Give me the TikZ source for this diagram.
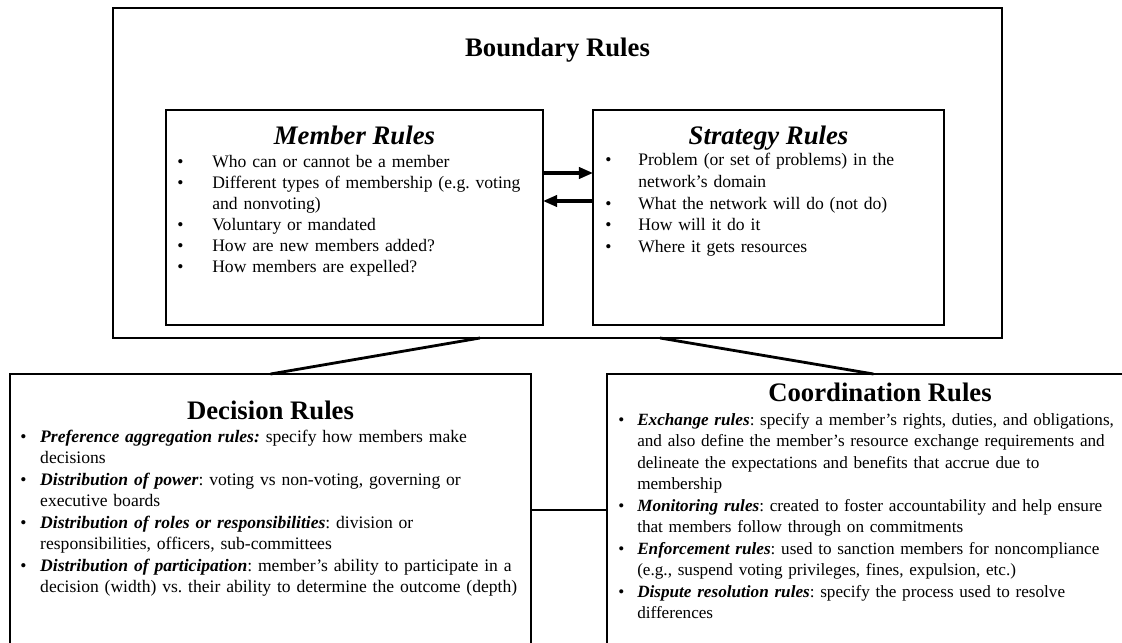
\documentclass[tikz,border=0pt]{standalone}
\usepackage{fontspec}
\setmainfont{Liberation Serif}
\usetikzlibrary{positioning,arrows.meta,calc}

% bullet list with hanging indent
\newlength\bulletgap
\newcommand\ruleitem[1]{\noindent\hangindent=\bulletgap\hangafter=1\makebox[\bulletgap][l]{\textbullet}#1\par}
\newcommand\term[1]{\textbf{\textit{#1}}}
\frenchspacing

\tikzset{
  rulebox/.style 2 args={
    draw, line width=2pt, inner sep=0pt, outer sep=0pt,
    minimum width=#1*0.025cm, minimum height=#2*0.025cm
  },
  heading/.style={
    anchor=base, inner sep=0pt,
    font=\fontsize{19}{22}\selectfont\bfseries
  },
  itemlist/.style={
    anchor=base west, inner sep=0pt, text width=#1, align=left
  },
  link/.style={line width=2pt},
  arrow/.style={-{Triangle[length=10pt,width=8pt]}, line width=2.2pt}
}

\begin{document}
\begin{tikzpicture}[x=0.025cm, y=-0.025cm]
  \useasboundingbox (0,0) rectangle (1122,643);
  \clip (0,0) rectangle (1122,643);

  % boxes
  \node[rulebox={889}{330}] (boundary) at (557.5,173) {};
  \node[rulebox={377}{215}] (member) at (354.5,217.5) {};
  \node[rulebox={351}{215}] (strategy) at (768.5,217.5) {};
  \node[rulebox={521}{272}] (decision) at (270.5,510) {};
  \node[rulebox={533}{272}] (coord) at (873.5,510) {};

  % headings
  \node[heading] (boundaryhead) at (557.5,57) {Boundary Rules};
  \node[heading, font=\fontsize{19}{22}\selectfont\bfseries\itshape] (memberhead) at (354.5,145) {Member Rules};
  \node[heading, font=\fontsize{19}{22}\selectfont\bfseries\itshape] (strategyhead) at (768.5,145) {Strategy Rules};
  \node[heading] (decisionhead) at (270.5,419) {Decision Rules};
  \node[heading] (coordhead) at (880,401) {Coordination Rules};

  % item lists
  \node[itemlist=360pt, font=\fontsize{12.5}{15}\selectfont] (memberlist) at (177,167) {%
    \setlength\bulletgap{24.9pt}%
    \ruleitem{Who can or cannot be a member}%
    \ruleitem{Different types of membership (e.g. voting\newline and nonvoting)}%
    \ruleitem{Voluntary or mandated}%
    \ruleitem{How are new members added?}%
    \ruleitem{How members are expelled?}};
  \node[itemlist=360pt, font=\fontsize{12.5}{15.3}\selectfont] (strategylist) at (605,166) {%
    \setlength\bulletgap{23.5pt}%
    \ruleitem{Problem (or set of problems) in the\newline network's domain}%
    \ruleitem{What the network will do (not do)}%
    \ruleitem{How will it do it}%
    \ruleitem{Where it gets resources}};
  \node[itemlist=480pt, font=\fontsize{12.5}{15.3}\selectfont] (decisionlist) at (20,442) {%
    \setlength\bulletgap{14.2pt}%
    \ruleitem{\term{Preference aggregation rules:} specify how members make\newline decisions}%
    \ruleitem{\term{Distribution of power}: voting vs non-voting, governing or\newline executive boards}%
    \ruleitem{\term{Distribution of roles or responsibilities}: division or\newline responsibilities, officers, sub-committees}%
    \ruleitem{\term{Distribution of participation}: member's ability to participate in a\newline decision (width) vs. their ability to determine the outcome (depth)}};
  \node[itemlist=480pt, font=\fontsize{12.2}{15.3}\selectfont] (coordlist) at (618,425) {%
    \setlength\bulletgap{13.5pt}%
    \ruleitem{\term{Exchange rules}: specify a member's rights, duties, and obligations,\newline and also define the member's resource exchange requirements and\newline delineate the expectations and benefits that accrue due to\newline membership}%
    \ruleitem{\term{Monitoring rules}: created to foster accountability and help ensure\newline that members follow through on commitments}%
    \ruleitem{\term{Enforcement rules}: used to sanction members for noncompliance\newline (e.g., suspend voting privileges, fines, expulsion, etc.)}%
    \ruleitem{\term{Dispute resolution rules}: specify the process used to resolve\newline differences}};

  % connectors
  \draw[arrow] ($(member.east)+(0,-44.5)$) -- ($(strategy.west)+(0,-44.5)$);
  \draw[arrow] ($(strategy.west)+(0,-16.5)$) -- ($(member.east)+(0,-16.5)$);
  \draw[link] ($(boundary.south)+(-77.5,0)$) -- (decision.north);
  \draw[link] ($(boundary.south)+(102.5,0)$) -- (coord.north);
  \draw[link] (decision.east) -- (coord.west);
\end{tikzpicture}
\end{document}
